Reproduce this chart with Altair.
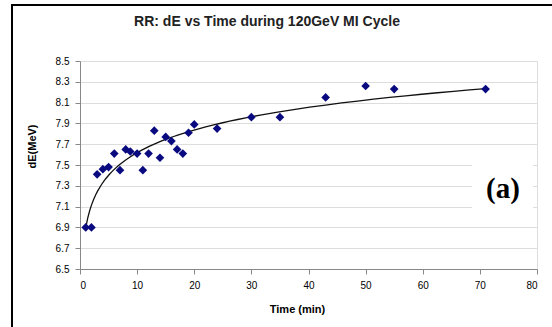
import altair as alt
import pandas as pd

time_min = [1, 2, 3, 4, 5, 6, 7, 8, 8.8, 10, 11, 12, 13, 14, 15, 16, 17, 18, 19, 20, 24, 30, 35, 43, 50, 55, 71]
de_mev = [6.9, 6.9, 7.41, 7.46, 7.48, 7.61, 7.45, 7.65, 7.63, 7.61, 7.45, 7.61, 7.83, 7.57, 7.77, 7.73, 7.65, 7.61, 7.81, 7.89, 7.85, 7.96, 7.96, 8.15, 8.26, 8.23, 8.23]
y_ticks = [6.5, 6.7, 6.9, 7.1, 7.3, 7.5, 7.7, 7.9, 8.1, 8.3, 8.5]
x_ticks = [0, 10, 20, 30, 40, 50, 60, 70, 80]
title_text = ["RR: dE vs Time during 120GeV MI Cycle"]
panel_label = ["(a)"]

df = pd.DataFrame({"t": time_min, "dE": de_mev})

W, H = 457, 208
FONT = "Liberation Sans"

xs = alt.Scale(domain=[0, 80], nice=False, zero=False)
ys = alt.Scale(domain=[6.5, 8.5], nice=False, zero=False)

x_axis = alt.Axis(values=x_ticks, title="Time (min)", grid=False, tickSize=5,
                  labelPadding=6, titleX=217, titleY=34, titleAnchor="middle",
                  labelOverlap=False)
y_axis = alt.Axis(values=y_ticks, format=".1f", title="dE(MeV)", grid=True,
                  tickSize=5, labelPadding=6, titleX=-43, titleY=85,
                  labelOverlap=False, labelFlush=False)

base = alt.Chart(df)

trend = base.transform_regression("t", "dE", method="log").mark_line(
    color="#111111", strokeWidth=1.3
).encode(x=alt.X("t:Q", scale=xs, axis=x_axis), y=alt.Y("dE:Q", scale=ys, axis=y_axis))

points = base.mark_point(shape="diamond", filled=True, size=75, color="#0a0a80", opacity=1).encode(
    x=alt.X("t:Q", scale=xs, axis=x_axis),
    y=alt.Y("dE:Q", scale=ys, axis=y_axis),
)

cover = alt.Chart(pd.DataFrame({"k": [0]})).mark_rect(color="white").encode(
    x=alt.value(392), x2=alt.value(453), y=alt.value(89), y2=alt.value(154)
)

label = alt.Chart(pd.DataFrame({"txt": panel_label})).mark_text(
    font="Liberation Serif", fontWeight="bold", fontSize=29, color="black",
    align="center", baseline="middle"
).encode(text="txt:N", x=alt.value(423), y=alt.value(128))

title = alt.Chart(pd.DataFrame({"txt": title_text})).mark_text(
    font=FONT, fontWeight="bold", fontSize=14, color="#222",
    align="center", baseline="middle"
).encode(text="txt:N", x=alt.value(187), y=alt.value(-39))

border = alt.Chart(pd.DataFrame({"k": [0]})).mark_rect(
    fill=None, stroke="black", strokeWidth=2
).encode(x=alt.value(-68), x2=alt.value(600), y=alt.value(-56), y2=alt.value(400))

chart = alt.layer(trend, points, cover, label, title, border).properties(
    width=W, height=H,
    autosize=alt.AutoSizeParams(type="none"),
    padding={"left": 80, "top": 61, "right": 15, "bottom": 58},
).configure_view(stroke="#7a7a7a", strokeWidth=1).configure_axis(
    labelFont=FONT, labelFontSize=12.5, labelColor="#333", titleFont=FONT,
    titleFontSize=10.5, titleFontWeight="bold", titleColor="#222",
    domainColor="#7a7a7a", tickColor="#7a7a7a", gridColor="#7a7a7a",
    gridWidth=1.1, domainWidth=1.1, gridOpacity=1,
).configure(background="white")

chart.save("out.html", embed_options={"renderer": "svg", "actions": False})
